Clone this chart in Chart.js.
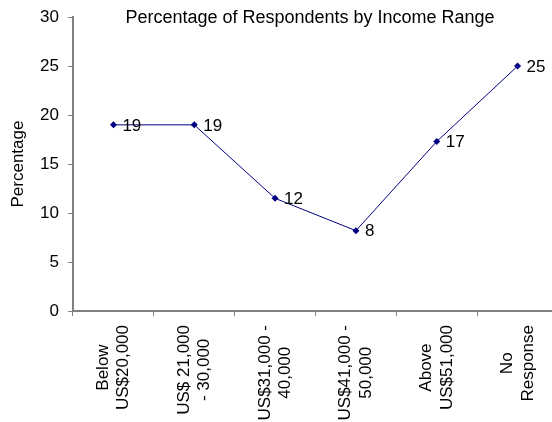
<!DOCTYPE html>
<html>
<head>
<meta charset="utf-8">
<script src="https://cdn.jsdelivr.net/npm/chart.js@4/dist/chart.umd.min.js"></script>
<style>
  html, body { margin: 0; padding: 0; background: #ffffff; }
  #wrap { width: 552px; height: 422px; overflow: hidden; position: relative; }
  canvas { display: block; }
</style>
</head>
<body>
<div id="wrap"><canvas id="chart" width="562" height="422"></canvas></div>
<script>
// Income brackets, each split into the lines shown under the axis
const categories = [
  ["Below", "US$20,000"],
  ["US$ 21,000", "- 30,000"],
  ["US$31,000 -", "40,000"],
  ["US$41,000 -", "50,000"],
  ["Above", "US$51,000"],
  ["No", "Response"]
];
// Share of respondents in each bracket (%)
const percentages = [19, 19, 11.5, 8.2, 17.3, 25];
// Value axis range and step
const yTicks = { min: 0, max: 30, step: 5 };

const chartTitle = "Percentage of Respondents by Income Range";
const yTitle = "Percentage";

const FONT = '"Liberation Sans", Arial, sans-serif';
const AXIS_GREY = '#808080';
const NAVY = '#000080';

// Writes the rounded value to the right of each marker
const valueLabels = {
  id: 'valueLabels',
  afterDatasetsDraw(chart) {
    const ctx = chart.ctx;
    const meta = chart.getDatasetMeta(0);
    ctx.save();
    ctx.font = '17px ' + FONT;
    ctx.fillStyle = '#000000';
    ctx.textAlign = 'left';
    ctx.textBaseline = 'middle';
    meta.data.forEach((pt, i) => {
      ctx.fillText(String(Math.round(percentages[i])), pt.x + 9, pt.y + 1);
    });
    ctx.restore();
  }
};

// Title sits inside the plot area, above the data
const titleInPlot = {
  id: 'titleInPlot',
  afterDraw(chart) {
    const ctx = chart.ctx;
    ctx.save();
    ctx.font = '18px ' + FONT;
    ctx.fillStyle = '#000000';
    ctx.textAlign = 'center';
    ctx.textBaseline = 'middle';
    ctx.fillText(chartTitle, 310, 18);
    ctx.restore();
  }
};

// Vertical category labels: lines centred on each other, block starting just below the axis
const verticalCategoryLabels = {
  id: 'verticalCategoryLabels',
  afterDraw(chart) {
    const ctx = chart.ctx;
    const xScale = chart.scales.x;
    const lineH = 20.5;
    ctx.save();
    ctx.font = '17px ' + FONT;
    ctx.fillStyle = '#000000';
    ctx.textAlign = 'center';
    ctx.textBaseline = 'middle';
    categories.forEach((lines, i) => {
      const x = xScale.getPixelForTick(i);
      const longest = Math.max(...lines.map(l => ctx.measureText(l).width));
      const top = xScale.top + 14;
      ctx.save();
      ctx.translate(x, top + longest / 2);
      ctx.rotate(-Math.PI / 2);
      lines.forEach((line, j) => {
        ctx.fillText(line, 0, (j - (lines.length - 1) / 2) * lineH);
      });
      ctx.restore();
    });
    ctx.restore();
  }
};

new Chart(document.getElementById('chart'), {
  type: 'line',
  data: {
    labels: categories,
    datasets: [{
      data: percentages,
      borderColor: NAVY,
      borderWidth: 1,
      backgroundColor: NAVY,
      pointStyle: 'rectRot',
      pointRadius: 3.5,
      pointBorderWidth: 0,
      pointBackgroundColor: NAVY,
      tension: 0,
      fill: false
    }]
  },
  options: {
    responsive: false,
    animation: false,
    devicePixelRatio: 1,
    layout: { padding: { top: 10, right: 1, left: 0, bottom: 0 } },
    plugins: {
      legend: { display: false },
      title: { display: false },
      tooltip: { enabled: false }
    },
    scales: {
      x: {
        type: 'category',
        offset: true,
        grid: {
          offset: true,
          drawOnChartArea: false,
          drawTicks: true,
          tickLength: 5,
          color: AXIS_GREY,
          lineWidth: 1
        },
        border: { color: AXIS_GREY, width: 2 },
        ticks: { display: false, autoSkip: false },
        afterFit(scale) { scale.height = 111; }
      },
      y: {
        min: yTicks.min,
        max: yTicks.max,
        grid: {
          drawOnChartArea: false,
          drawTicks: true,
          tickLength: 5,
          color: AXIS_GREY,
          lineWidth: 1
        },
        border: { color: AXIS_GREY, width: 2 },
        ticks: {
          stepSize: yTicks.step,
          color: '#000000',
          padding: 9,
          font: { family: FONT, size: 17, lineHeight: 0.95 }
        },
        title: {
          display: true,
          text: yTitle,
          color: '#000000',
          font: { family: FONT, size: 17 },
          padding: { top: 8, bottom: 0 }
        },
        afterFit(scale) { scale.width = 73; }
      }
    }
  },
  plugins: [valueLabels, titleInPlot, verticalCategoryLabels]
});
</script>
</body>
</html>
